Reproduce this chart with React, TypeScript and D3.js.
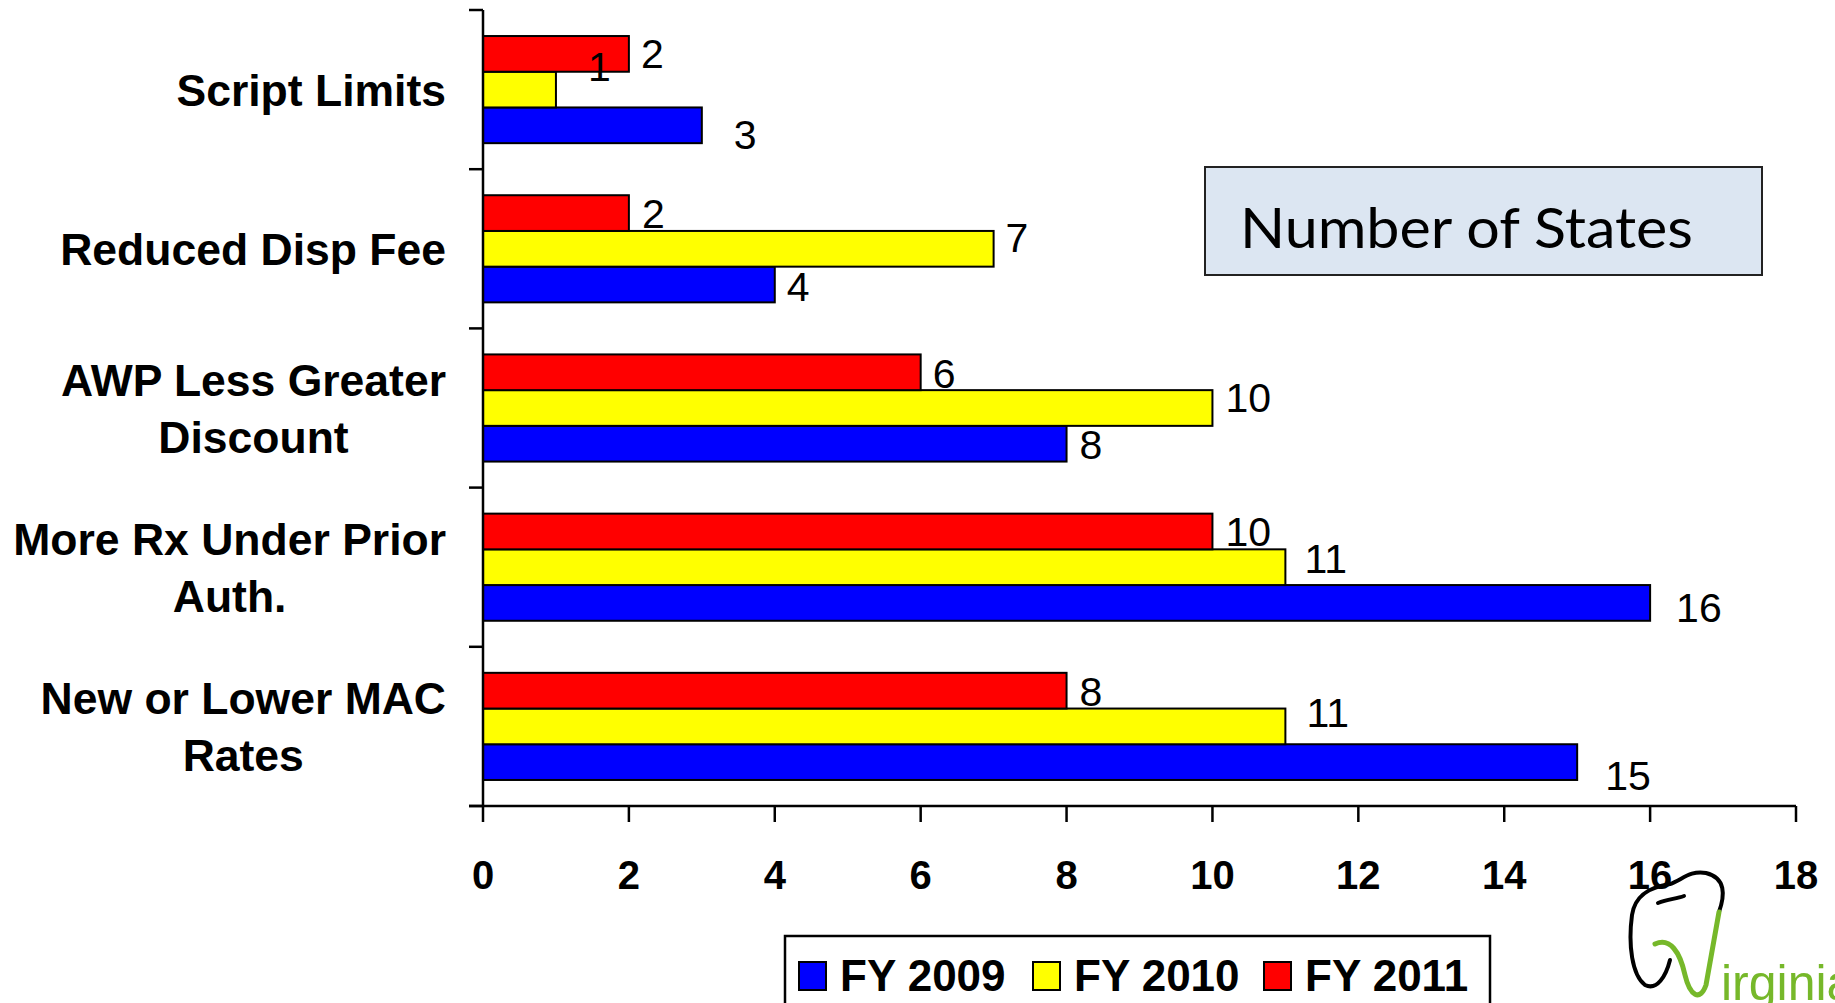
import React, { useEffect, useRef } from 'react'
import * as d3 from 'd3'

// categories top to bottom, each label split the way the slide wraps it
const categories = ['Script Limits', 'Reduced Disp Fee', 'AWP Less Greater Discount', 'More Rx Under Prior Auth.', 'New or Lower MAC Rates']
const categoryLines = [
  ['Script Limits'],
  ['Reduced Disp Fee'],
  ['AWP Less Greater', 'Discount'],
  ['More Rx Under Prior', 'Auth.'],
  ['New or Lower MAC', 'Rates']
]

const fy2009 = [3, 4, 8, 16, 15]
const fy2010 = [1, 7, 10, 11, 11]
const fy2011 = [2, 2, 6, 10, 8]

const seriesNames = ['FY 2009', 'FY 2010', 'FY 2011']
const seriesColors = ['#0000ff', '#ffff00', '#ff0000']
const xTicks = [0, 2, 4, 6, 8, 10, 12, 14, 16, 18]

// the data labels sit a little off in the original (dx, dy per category)
const labelNudge2009 = [[32, 9], [12, 2], [13, 1], [26, 4], [28, 13]]
const labelNudge2010 = [[32, -23], [12, -12], [13, -11], [19, -9], [21, -14]]
const labelNudge2011 = [[12, -1], [13, 0], [12, 1], [13, 0], [13, 1]]

const W = 1835
const H = 1003
const margin = { top: 10, left: 483, right: 39, bottom: 197 }
const FONT = '"Liberation Sans", Arial, sans-serif'

export default function App() {
  const ref = useRef<SVGSVGElement>(null)

  useEffect(() => {
    const svg = d3.select(ref.current)
    svg.selectAll('*').remove()

    const x = d3.scaleLinear().domain([0, 18]).range([margin.left, W - margin.right])
    const y = d3.scaleBand().domain(categories)
      .range([margin.top, H - margin.bottom])
      .paddingInner(0.327).paddingOuter(0.1635)
    // red on top, blue at the bottom of each group
    const inner = d3.scaleBand().domain(['FY 2011', 'FY 2010', 'FY 2009']).range([0, y.bandwidth()])

    const series = [
      { name: 'FY 2009', values: fy2009, color: seriesColors[0], nudge: labelNudge2009 },
      { name: 'FY 2010', values: fy2010, color: seriesColors[1], nudge: labelNudge2010 },
      { name: 'FY 2011', values: fy2011, color: seriesColors[2], nudge: labelNudge2011 }
    ]
    const y0 = H - margin.bottom
    const barsG = svg.append('g')
    const labelsG = svg.append('g')

    series.forEach(s => {
      barsG.append('g').selectAll('rect').data(s.values).enter()
        .append('rect')
        .attr('x', x(0))
        .attr('y', (d, i) => (y(categories[i]) as number) + (inner(s.name) as number))
        .attr('width', d => x(d) - x(0))
        .attr('height', inner.bandwidth())
        .attr('fill', s.color)
        .attr('stroke', '#000')
        .attr('stroke-width', 2)
      labelsG.append('g').selectAll('text').data(s.values).enter()
        .append('text')
        .attr('x', (d, i) => x(d) + s.nudge[i][0])
        .attr('y', (d, i) => (y(categories[i]) as number) + (inner(s.name) as number) + inner.bandwidth() / 2 + s.nudge[i][1])
        .attr('dy', '0.36em')
        .attr('font-family', FONT)
        .attr('font-size', 41)
        .attr('fill', '#000')
        .text(d => d)
    })

    // axes
    const ax = svg.append('g').attr('stroke', '#000').attr('stroke-width', 2.5)
    ax.append('line').attr('x1', x(0)).attr('x2', x(0)).attr('y1', margin.top).attr('y2', y0)
    ax.append('line').attr('x1', x(0) - 14).attr('x2', x(18)).attr('y1', y0).attr('y2', y0)
    const bounds = categories.map(c => (y(c) as number) - y.step() * y.paddingInner() / 2)
    bounds.push(y0)
    bounds[0] = margin.top
    ax.selectAll('.ytick').data(bounds).enter()
      .append('line')
      .attr('x1', x(0) - 14).attr('x2', x(0))
      .attr('y1', d => d).attr('y2', d => d)
    ax.selectAll('.xtick').data(xTicks).enter()
      .append('line')
      .attr('x1', d => x(d)).attr('x2', d => x(d))
      .attr('y1', y0).attr('y2', y0 + 16)

    svg.append('g').selectAll('text').data(xTicks).enter()
      .append('text')
      .attr('x', d => x(d))
      .attr('y', 889)
      .attr('text-anchor', 'middle')
      .attr('font-family', FONT)
      .attr('font-weight', 'bold')
      .attr('font-size', 40)
      .text(d => d)

    // category labels: centred lines, block right-aligned
    const labelRight = 446
    const lineH = 57
    categories.forEach((c, i) => {
      const lines = categoryLines[i]
      const cy = (y(c) as number) + y.bandwidth() / 2
      const g = svg.append('g')
      const texts = lines.map((ln, j) => g.append('text')
        .attr('y', cy + (j - (lines.length - 1) / 2) * lineH)
        .attr('dy', '0.36em')
        .attr('text-anchor', 'middle')
        .attr('font-family', FONT)
        .attr('font-weight', 'bold')
        .attr('font-size', 44.5)
        .text(ln))
      const widths = texts.map(t => (t.node() as SVGTextElement).getComputedTextLength())
      const maxW = d3.max(widths) as number
      texts.forEach(t => t.attr('x', labelRight - maxW / 2))
    })

    // "Number of States" box
    svg.append('rect')
      .attr('x', 1205).attr('y', 167).attr('width', 557).attr('height', 108)
      .attr('fill', '#dce6f2').attr('stroke', '#222').attr('stroke-width', 2)
    svg.append('text')
      .attr('x', 1240).attr('y', 248)
      .attr('font-family', 'Lato, "Open Sans", sans-serif')
      .attr('font-size', 56)
      .attr('textLength', 453)
      .attr('lengthAdjust', 'spacingAndGlyphs')
      .text('Number of States')

    // legend
    const lg = svg.append('g')
    lg.append('rect')
      .attr('x', 785).attr('y', 936).attr('width', 705).attr('height', 90)
      .attr('fill', '#fff').attr('stroke', '#000').attr('stroke-width', 2.5)
    const legendX = [799, 1033, 1264]
    seriesNames.forEach((n, i) => {
      lg.append('rect')
        .attr('x', legendX[i]).attr('y', 962).attr('width', 27).attr('height', 28)
        .attr('fill', seriesColors[i]).attr('stroke', '#000').attr('stroke-width', 2)
      lg.append('text')
        .attr('x', legendX[i] + 41).attr('y', 991)
        .attr('font-family', FONT).attr('font-weight', 'bold').attr('font-size', 44)
        .text(n)
    })

    // logo in the corner
    const logo = svg.append('g').attr('fill', 'none').attr('stroke-linecap', 'round')
    logo.append('path')
      .attr('d', 'M1719,912 C1725,895 1726,878 1706,873 C1690,870 1682,880 1670,884 C1650,887 1635,895 1632,915 C1628,945 1632,975 1645,985 C1657,991 1666,976 1670,960')
      .attr('stroke', '#000').attr('stroke-width', 4)
    logo.append('path')
      .attr('d', 'M1658,903 C1668,899 1676,899 1684,896')
      .attr('stroke', '#000').attr('stroke-width', 4)
    logo.append('path')
      .attr('d', 'M1655,944 C1670,937 1680,952 1685,975 C1690,996 1700,1002 1706,985 L1719,912')
      .attr('stroke', '#76b82a').attr('stroke-width', 5)
    svg.append('text')
      .attr('x', 1721).attr('y', 1000)
      .attr('font-family', FONT).attr('font-size', 50)
      .attr('fill', '#76b82a')
      .text('irginia')
  }, [])

  return (
    <svg ref={ref} width={W} height={H} style={{ position: 'absolute', left: 0, top: 0, background: '#fff' }} />
  )
}
